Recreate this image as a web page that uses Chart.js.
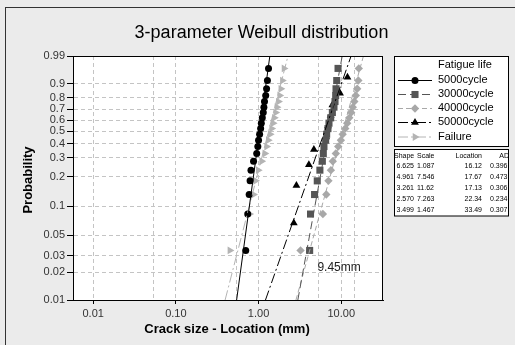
<!DOCTYPE html>
<html>
<head>
<meta charset="utf-8">
<script src="https://cdn.jsdelivr.net/npm/chart.js@4.4.0/dist/chart.umd.min.js"></script>
<style>
  html, body { margin: 0; padding: 0; background: #ebebeb; }
  canvas { display: block; }
</style>
</head>
<body>
<canvas id="weibullChart" width="515" height="345"></canvas>
<script>
// median rank probabilities (20 and 10 specimens)
const probs20 = [0.0343, 0.0833, 0.1324, 0.1814, 0.2304, 0.2794, 0.3284, 0.3775, 0.4265, 0.4755,
                 0.5245, 0.5735, 0.6225, 0.6716, 0.7206, 0.7696, 0.8186, 0.8676, 0.9167, 0.9657];
const probs10 = [0.0673, 0.1635, 0.2596, 0.3558, 0.4519, 0.5481, 0.6442, 0.7404, 0.8365, 0.9327];

// crack size - location (mm) for each series
const x5000 = [0.70, 0.74, 0.77, 0.79, 0.81, 0.87, 0.95, 0.98, 1.00, 1.03,
               1.06, 1.08, 1.11, 1.14, 1.16, 1.18, 1.22, 1.25, 1.28, 1.32];
const x30000 = [4.15, 4.25, 4.76, 5.13, 5.52, 5.91, 6.07, 6.18, 6.48, 6.66,
                6.91, 7.11, 7.45, 7.81, 8.17, 8.41, 8.57, 8.65, 8.82, 9.15];
const x40000 = [3.22, 6.0, 6.6, 7.0, 7.5, 7.9, 8.6, 9.2, 9.9, 10.4,
                11.2, 11.8, 12.5, 13.2, 13.8, 14.4, 15.0, 15.6, 16.1, 16.3];
const x50000 = [2.67, 2.87, 4.06, 4.67, 6.57, 6.91, 7.45, 7.81, 9.67, 11.9];
const xFailure = [0.45, 0.78, 0.87, 0.92, 0.99, 1.09, 1.19, 1.25, 1.31, 1.38,
                  1.44, 1.50, 1.55, 1.61, 1.67, 1.74, 1.80, 1.86, 1.94, 2.03];

// fitted lines: x at P=0.01 and at P=0.99
const fitLow = [0.543, 2.986, 2.835, 1.213, 0.394];
const fitHigh = [1.369, 10.27, 18.56, 13.16, 2.270];

const seriesNames = ['5000cycle', '30000cycle', '40000cycle', '50000cycle', 'Failure'];

// table next to the legend
const tableHeader = ['Shape', 'Scale', 'Location', 'AD'];
const shapes = ['6.625', '4.961', '3.261', '2.570', '3.499'];
const scalesParam = ['1.087', '7.546', '11.62', '7.263', '1.467'];
const locations = ['16.12', '17.67', '17.13', '22.34', '33.49'];
const adValues = ['0.396', '0.473', '0.306', '0.234', '0.307'];

// axis ticks
const probTicks = [0.01, 0.02, 0.03, 0.05, 0.1, 0.2, 0.3, 0.4, 0.5, 0.6, 0.7, 0.8, 0.9, 0.99];
const xGridValues = [0.01, 0.0535, 0.1, 0.54, 1, 5.3, 10, 14.3];
const xTickValues = [0.01, 0.1, 1, 10];
const xTickLabels = ['0.01', '0.10', '1.00', '10.00'];

const FONT = '"Liberation Sans", Arial, sans-serif';
const weib = p => Math.log(-Math.log(1 - p));

// marker / line styles for each series
const styles = [
    { color: '#000000', point: 'circle', radius: 3.5, rot: 0, dash: [] },
    { color: '#555555', point: 'rect', radius: 5, rot: 0, dash: [8, 4] },
    { color: '#a8a8a8', point: 'rectRot', radius: 4.2, rot: 0, dash: [5, 3] },
    { color: '#000000', point: 'triangle', radius: 4.5, rot: 0, dash: [10, 3, 2, 3] },
    { color: '#b4b4b4', point: 'triangle', radius: 4.5, rot: 90, dash: [10, 3, 2, 3] }
];

const xSeries = [x5000, x30000, x40000, x50000, xFailure];
const pSeries = [probs20, probs20, probs20, probs10, probs20];

const datasets = [];
xSeries.forEach((xs, i) => {
    const st = styles[i];
    datasets.push({
        label: seriesNames[i] + ' fit',
        data: [{ x: fitLow[i], y: weib(0.01) }, { x: fitHigh[i], y: weib(0.99) }],
        showLine: true,
        borderColor: st.color,
        borderWidth: 1,
        borderDash: st.dash,
        pointRadius: 0
    });
});
xSeries.forEach((xs, i) => {
    const st = styles[i];
    datasets.push({
        label: seriesNames[i],
        data: xs.map((x, j) => ({ x: x, y: weib(pSeries[i][j]) })),
        showLine: false,
        pointStyle: st.point,
        pointRotation: st.rot,
        pointRadius: st.radius,
        pointBackgroundColor: st.color,
        pointBorderColor: st.color,
        pointBorderWidth: 0
    });
});

// background, frame, titles, legend, table
const decorPlugin = {
    id: 'decor',
    beforeDraw(chart) {
        const { ctx, chartArea: a } = chart;
        ctx.save();
        ctx.fillStyle = '#ebebeb';
        ctx.fillRect(0, 0, chart.width, chart.height);
        ctx.fillStyle = '#ffffff';
        ctx.fillRect(a.left, a.top, a.right - a.left, a.bottom - a.top);
        ctx.restore();
    },
    afterDraw(chart) {
        const { ctx, chartArea: a, scales } = chart;
        ctx.save();

        // plot frame and outer border
        ctx.strokeStyle = '#000';
        ctx.lineWidth = 1;
        ctx.setLineDash([]);
        ctx.strokeRect(Math.round(a.left) + 0.5, Math.round(a.top) + 0.5,
                       Math.round(a.right - a.left) - 1, Math.round(a.bottom - a.top));
        ctx.strokeStyle = '#333';
        ctx.strokeRect(5.5, 7.5, 600, 400);

        // title and axis titles
        ctx.fillStyle = '#000';
        ctx.textAlign = 'center';
        ctx.textBaseline = 'middle';
        ctx.font = '18px ' + FONT;
        ctx.fillText('3-parameter Weibull distribution', 261.5, 33);
        ctx.font = 'bold 13px ' + FONT;
        ctx.fillText('Crack size - Location (mm)', 227, 329);
        ctx.save();
        ctx.translate(28, 180);
        ctx.rotate(-Math.PI / 2);
        ctx.fillText('Probability', 0, 0);
        ctx.restore();

        // annotation
        ctx.font = '12px ' + FONT;
        ctx.fillStyle = '#222';
        ctx.textAlign = 'left';
        ctx.fillText('9.45mm', scales.x.getPixelForValue(5.15), scales.y.getPixelForValue(weib(0.0225)));

        // legend
        ctx.fillStyle = '#fff';
        ctx.fillRect(394.5, 56.5, 114, 90);
        ctx.strokeStyle = '#000';
        ctx.strokeRect(394.5, 56.5, 114, 90);
        ctx.font = '11px ' + FONT;
        ctx.fillStyle = '#000';
        ctx.fillText('Fatigue life', 438, 65);
        const ly = [80, 94, 108, 122, 136.5];
        styles.forEach((st, i) => {
            ctx.strokeStyle = st.color;
            ctx.setLineDash(st.dash);
            ctx.beginPath();
            ctx.moveTo(398, ly[i] + 0.5);
            ctx.lineTo(432, ly[i] + 0.5);
            ctx.stroke();
            ctx.setLineDash([]);
            ctx.fillStyle = st.color;
            Chart.helpers.drawPoint(ctx, { pointStyle: st.point, rotation: st.rot, radius: st.radius, borderWidth: 0 }, 415, ly[i] + 0.5);
            ctx.fillStyle = '#000';
            ctx.fillText(seriesNames[i], 438, ly[i]);
        });

        // parameter table
        ctx.fillStyle = '#fff';
        ctx.fillRect(394.5, 149.5, 114, 66.5);
        ctx.strokeStyle = '#000';
        ctx.strokeRect(394.5, 149.5, 114, 66.5);
        ctx.save();
        ctx.beginPath();
        ctx.rect(395, 150, 113, 65.5);
        ctx.clip();
        ctx.font = '7px ' + FONT;
        ctx.fillStyle = '#000';
        ctx.textAlign = 'left';
        ctx.fillText(tableHeader[0], 394, 156);
        ctx.fillText(tableHeader[1], 417, 156);
        ctx.textAlign = 'right';
        ctx.fillText(tableHeader[2], 482, 156);
        ctx.fillText(tableHeader[3], 509, 156);
        const ry = [166, 177, 188, 199, 210];
        shapes.forEach((s, i) => {
            ctx.textAlign = 'left';
            ctx.fillText(s, 396.5, ry[i]);
            ctx.fillText(scalesParam[i], 417, ry[i]);
            ctx.fillText(adValues[i], 490, ry[i]);
            ctx.textAlign = 'right';
            ctx.fillText(locations[i], 482, ry[i]);
        });
        ctx.restore();

        ctx.restore();
    }
};

const ctx = document.getElementById('weibullChart').getContext('2d');
const weibullChart = new Chart(ctx, {
    type: 'scatter',
    data: { datasets: datasets },
    options: {
        responsive: false,
        devicePixelRatio: 1,
        animation: false,
        layout: { padding: { left: 0, top: 56, right: 132, bottom: 0 } },
        plugins: {
            legend: { display: false },
            title: { display: false },
            tooltip: { enabled: false }
        },
        scales: {
            x: {
                type: 'logarithmic',
                min: 0.0057,
                max: 32,
                afterFit: s => { s.height = 45; },
                afterBuildTicks: s => { s.ticks = xGridValues.map(v => ({ value: v })); },
                ticks: {
                    autoSkip: false,
                    maxRotation: 0,
                    padding: 3,
                    color: '#333',
                    font: { family: FONT, size: 11 },
                    callback: (v, i) => {
                        const k = xTickValues.indexOf(xGridValues[i]);
                        return k >= 0 ? xTickLabels[k] : '';
                    }
                },
                grid: {
                    color: '#c4c4c4',
                    tickLength: 4,
                    tickColor: c => xTickValues.includes(xGridValues[c.index]) ? '#000' : 'rgba(0,0,0,0)',
                    tickBorderDash: []
                },
                border: { color: '#000', dash: [4, 3] }
            },
            y: {
                type: 'linear',
                min: weib(0.01),
                max: weib(0.99),
                afterFit: s => { s.width = 73; },
                afterBuildTicks: s => { s.ticks = probTicks.map(p => ({ value: weib(p) })); },
                ticks: {
                    autoSkip: false,
                    padding: 2,
                    color: '#333',
                    font: { family: FONT, size: 11 },
                    callback: (v, i) => String(probTicks[i])
                },
                grid: {
                    color: c => (c.index === 0 || c.index === probTicks.length - 1) ? 'rgba(0,0,0,0)' : '#c4c4c4',
                    tickLength: 6,
                    tickColor: '#000',
                    tickBorderDash: []
                },
                border: { color: '#000', dash: [4, 3] }
            }
        }
    },
    plugins: [decorPlugin]
});
</script>
</body>
</html>
